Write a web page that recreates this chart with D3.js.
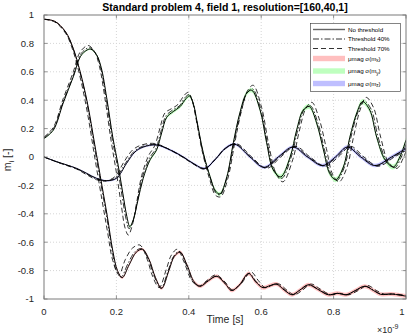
<!DOCTYPE html>
<html>
<head>
<meta charset="utf-8">
<script src="https://cdn.jsdelivr.net/npm/d3@7"></script>
<style>
  html, body { margin: 0; padding: 0; background: #fff; }
  svg { display: block; font-family: "Liberation Sans", Arial, sans-serif; }
</style>
</head>
<body>
<svg id="chart" width="407" height="335"></svg>
<script>
// time in ns (axis shows x10^-9 s)
const xTicks = [0, 0.2, 0.4, 0.6, 0.8, 1];
const yTicks = [-1, -0.8, -0.6, -0.4, -0.2, 0, 0.2, 0.4, 0.6, 0.8, 1];

// mx
const mxNone = [[0,0.97],[0.03,0.955],[0.06,0.88],[0.08,0.77],[0.1,0.6],[0.12,0.38],[0.14,0.09],[0.16,-0.2],[0.175,-0.42],[0.19,-0.66],[0.203,-0.8],[0.216,-0.85],[0.235,-0.76],[0.255,-0.67],[0.272,-0.65],[0.29,-0.72],[0.308,-0.85],[0.325,-0.925],[0.345,-0.8],[0.36,-0.7],[0.376,-0.67],[0.395,-0.76],[0.415,-0.88],[0.432,-0.91],[0.455,-0.87],[0.477,-0.84],[0.5,-0.89],[0.518,-0.94],[0.54,-0.9],[0.565,-0.82],[0.585,-0.88],[0.605,-0.92],[0.625,-0.905],[0.642,-0.895],[0.665,-0.94],[0.685,-0.97],[0.705,-0.94],[0.73,-0.9],[0.755,-0.93],[0.785,-0.97],[0.81,-0.96],[0.835,-0.97],[0.86,-0.94],[0.886,-0.91],[0.91,-0.94],[0.93,-0.967],[0.96,-0.965],[1,-0.98]];
const mx40 = [[0,0.97],[0.03,0.955],[0.06,0.876],[0.08,0.765],[0.1,0.59],[0.12,0.36],[0.14,0.06],[0.16,-0.23],[0.175,-0.45],[0.19,-0.69],[0.2,-0.8],[0.213,-0.845],[0.232,-0.75],[0.252,-0.665],[0.27,-0.645],[0.288,-0.72],[0.306,-0.85],[0.323,-0.925],[0.343,-0.8],[0.358,-0.7],[0.374,-0.665],[0.393,-0.76],[0.413,-0.88],[0.43,-0.91],[0.453,-0.87],[0.476,-0.84],[0.5,-0.89],[0.519,-0.94],[0.541,-0.9],[0.567,-0.82],[0.587,-0.88],[0.607,-0.92],[0.627,-0.905],[0.644,-0.895],[0.667,-0.94],[0.687,-0.97],[0.707,-0.94],[0.732,-0.9],[0.757,-0.93],[0.787,-0.97],[0.812,-0.96],[0.837,-0.97],[0.862,-0.94],[0.888,-0.91],[0.912,-0.94],[0.932,-0.967],[0.962,-0.965],[1,-0.98]];
const mx70 = [[0,0.97],[0.03,0.95],[0.06,0.87],[0.08,0.75],[0.1,0.56],[0.12,0.31],[0.14,0],[0.16,-0.3],[0.175,-0.52],[0.19,-0.73],[0.207,-0.83],[0.225,-0.72],[0.245,-0.64],[0.265,-0.62],[0.285,-0.72],[0.3,-0.84],[0.318,-0.92],[0.338,-0.79],[0.352,-0.69],[0.368,-0.65],[0.387,-0.74],[0.408,-0.87],[0.428,-0.91],[0.45,-0.87],[0.475,-0.83],[0.5,-0.88],[0.52,-0.935],[0.545,-0.89],[0.572,-0.81],[0.592,-0.87],[0.612,-0.92],[0.632,-0.9],[0.65,-0.895],[0.672,-0.94],[0.692,-0.97],[0.713,-0.94],[0.738,-0.895],[0.763,-0.93],[0.792,-0.97],[0.817,-0.96],[0.842,-0.97],[0.868,-0.94],[0.894,-0.905],[0.918,-0.94],[0.94,-0.965],[0.97,-0.965],[1,-0.975]];

// my
const myNone = [[0,0.13],[0.026,0.19],[0.053,0.38],[0.081,0.565],[0.104,0.72],[0.128,0.76],[0.145,0.72],[0.158,0.63],[0.173,0.42],[0.19,0.14],[0.205,-0.06],[0.218,-0.26],[0.229,-0.42],[0.237,-0.49],[0.247,-0.44],[0.259,-0.31],[0.274,-0.15],[0.293,-0.02],[0.311,0.05],[0.325,0.17],[0.339,0.28],[0.357,0.32],[0.376,0.355],[0.392,0.41],[0.402,0.43],[0.413,0.37],[0.422,0.26],[0.44,0.03],[0.459,-0.14],[0.474,-0.24],[0.486,-0.26],[0.505,-0.14],[0.523,0.1],[0.541,0.31],[0.56,0.45],[0.574,0.47],[0.597,0.33],[0.615,0.1],[0.633,-0.09],[0.654,-0.14],[0.68,0],[0.698,0.19],[0.716,0.33],[0.733,0.355],[0.753,0.24],[0.772,0.05],[0.789,-0.115],[0.806,-0.16],[0.827,-0.07],[0.845,0.14],[0.864,0.31],[0.88,0.39],[0.9,0.33],[0.919,0.14],[0.942,-0.02],[0.965,-0.07],[0.983,0],[1,0.12]];
const my40 = [[0,0.135],[0.026,0.2],[0.053,0.39],[0.081,0.575],[0.103,0.73],[0.126,0.77],[0.143,0.73],[0.156,0.635],[0.171,0.42],[0.188,0.135],[0.203,-0.07],[0.216,-0.28],[0.227,-0.44],[0.235,-0.505],[0.246,-0.45],[0.258,-0.31],[0.272,-0.14],[0.291,-0.01],[0.309,0.06],[0.323,0.18],[0.337,0.29],[0.355,0.33],[0.374,0.36],[0.39,0.42],[0.401,0.44],[0.412,0.38],[0.421,0.265],[0.439,0.03],[0.459,-0.145],[0.474,-0.25],[0.487,-0.265],[0.506,-0.14],[0.525,0.1],[0.543,0.31],[0.562,0.455],[0.576,0.48],[0.599,0.335],[0.617,0.1],[0.636,-0.095],[0.657,-0.15],[0.683,0],[0.701,0.19],[0.719,0.335],[0.736,0.36],[0.756,0.245],[0.775,0.05],[0.792,-0.115],[0.809,-0.165],[0.83,-0.07],[0.848,0.14],[0.867,0.315],[0.884,0.395],[0.904,0.335],[0.923,0.14],[0.946,-0.025],[0.969,-0.075],[0.987,0],[1,0.09]];
const my70 = [[0,0.14],[0.026,0.21],[0.053,0.41],[0.081,0.6],[0.1,0.74],[0.122,0.785],[0.14,0.74],[0.153,0.64],[0.168,0.42],[0.185,0.12],[0.2,-0.11],[0.213,-0.33],[0.224,-0.5],[0.233,-0.55],[0.244,-0.48],[0.256,-0.32],[0.27,-0.13],[0.289,0.01],[0.306,0.08],[0.32,0.2],[0.334,0.31],[0.352,0.34],[0.37,0.37],[0.386,0.43],[0.398,0.455],[0.41,0.39],[0.42,0.27],[0.438,0.03],[0.458,-0.16],[0.474,-0.27],[0.488,-0.28],[0.508,-0.15],[0.527,0.1],[0.545,0.32],[0.563,0.47],[0.578,0.505],[0.601,0.35],[0.62,0.1],[0.64,-0.11],[0.66,-0.175],[0.687,-0.02],[0.705,0.18],[0.723,0.34],[0.74,0.385],[0.76,0.27],[0.78,0.06],[0.797,-0.12],[0.815,-0.175],[0.836,-0.08],[0.855,0.14],[0.873,0.33],[0.89,0.42],[0.91,0.35],[0.93,0.14],[0.952,-0.04],[0.975,-0.08],[0.992,-0.01],[1,0.04]];

// mz
const mzNone = [[0,0],[0.035,-0.033],[0.063,-0.056],[0.09,-0.08],[0.118,-0.115],[0.145,-0.15],[0.173,-0.167],[0.2,-0.15],[0.228,-0.045],[0.251,0.035],[0.274,0.07],[0.311,0.085],[0.348,0.05],[0.385,0],[0.412,-0.045],[0.444,-0.08],[0.472,-0.02],[0.5,0.06],[0.527,0.09],[0.569,0],[0.608,-0.073],[0.647,0],[0.688,0.07],[0.728,0],[0.77,-0.06],[0.805,0],[0.838,0.07],[0.875,0],[0.914,-0.06],[0.96,0],[1,0.06]];
const mz40 = [[0,0],[0.035,-0.034],[0.063,-0.058],[0.09,-0.082],[0.118,-0.12],[0.145,-0.155],[0.171,-0.168],[0.198,-0.145],[0.226,-0.04],[0.249,0.04],[0.272,0.075],[0.309,0.088],[0.347,0.052],[0.384,0],[0.411,-0.045],[0.444,-0.082],[0.472,-0.02],[0.501,0.06],[0.529,0.092],[0.571,0],[0.611,-0.075],[0.65,0],[0.691,0.072],[0.731,0],[0.773,-0.062],[0.808,0],[0.842,0.072],[0.879,0],[0.918,-0.062],[0.963,0],[1,0.055]];
const mz70 = [[0,0],[0.035,-0.035],[0.063,-0.06],[0.09,-0.085],[0.118,-0.125],[0.145,-0.16],[0.168,-0.17],[0.195,-0.14],[0.222,-0.03],[0.245,0.05],[0.27,0.085],[0.306,0.095],[0.345,0.055],[0.382,0],[0.41,-0.045],[0.443,-0.085],[0.472,-0.02],[0.502,0.06],[0.531,0.095],[0.574,0],[0.615,-0.08],[0.654,0],[0.695,0.075],[0.735,0],[0.777,-0.065],[0.813,0],[0.847,0.075],[0.884,0],[0.923,-0.065],[0.968,0],[1,0.045]];

// muMag sigma half-widths, [t, sigma]
const sigmaX = [[0,0.004],[0.2,0.008],[0.4,0.012],[0.6,0.014],[0.8,0.014],[1,0.014]];
const sigmaY = [[0,0.004],[0.2,0.008],[0.4,0.012],[0.6,0.016],[0.8,0.018],[1,0.018]];
const sigmaZ = [[0,0.003],[0.2,0.006],[0.4,0.008],[0.6,0.01],[0.8,0.012],[1,0.012]];

const legendLabels = ["No threshold", "Threshold 40%", "Threshold 70%"];
const bandColors = ["#ffbfbf", "#bfffbf", "#bfbfff"];

const svg = d3.select("#chart");
const margin = { left: 44, right: 1, top: 15, bottom: 36 };
const W = 407, H = 335;
const x = d3.scaleLinear().domain([0, 1]).range([margin.left, W - margin.right]);
const y = d3.scaleLinear().domain([-1, 1]).range([H - margin.bottom, margin.top]);

svg.append("defs").append("clipPath").attr("id", "clip")
  .append("rect")
  .attr("x", x(0)).attr("y", y(1))
  .attr("width", x(1) - x(0)).attr("height", y(-1) - y(1));

// grid
const grid = svg.append("g");
grid.selectAll(".gx").data(xTicks.slice(1, -1)).join("line")
  .attr("x1", d => x(d)).attr("x2", d => x(d))
  .attr("y1", y(-1)).attr("y2", y(1))
  .attr("stroke", "#d6d6d6").attr("stroke-dasharray", "1,2");
grid.selectAll(".gy").data(yTicks.slice(1, -1)).join("line")
  .attr("y1", d => y(d)).attr("y2", d => y(d))
  .attr("x1", x(0)).attr("x2", x(1))
  .attr("stroke", "#d6d6d6").attr("stroke-dasharray", "1,2");

const plot = svg.append("g").attr("clip-path", "url(#clip)");

// uncertainty bands
const bands = [[mxNone, sigmaX], [myNone, sigmaY], [mzNone, sigmaZ]];
bands.forEach(([series, sig], i) => {
  const s = d3.scaleLinear().domain(sig.map(d => d[0])).range(sig.map(d => d[1]));
  const area = d3.area()
    .x(d => x(d[0]))
    .y0(d => y(d[1] - s(d[0])))
    .y1(d => y(d[1] + s(d[0])))
    .curve(d3.curveCatmullRom.alpha(0.5));
  plot.append("path").datum(series)
    .attr("d", area)
    .attr("fill", bandColors[i]);
});

const line = d3.line()
  .x(d => x(d[0]))
  .y(d => y(d[1]))
  .curve(d3.curveCatmullRom.alpha(0.5));

const styles = [
  { dash: null, w: 1 },
  { dash: "6,2,1.5,2", w: 0.8 },
  { dash: "5,3", w: 0.8 }
];
const groups = [[mx70, my70, mz70], [mx40, my40, mz40], [mxNone, myNone, mzNone]];
const styleOf = [2, 1, 0];
groups.forEach((g, gi) => {
  const st = styles[styleOf[gi]];
  g.forEach(series => {
    plot.append("path").datum(series)
      .attr("d", line)
      .attr("fill", "none")
      .attr("stroke", "#000")
      .attr("stroke-width", st.w)
      .attr("stroke-dasharray", st.dash);
  });
});

// axes box
const axisColor = "#7a7a7a";
svg.append("rect")
  .attr("x", x(0)).attr("y", y(1))
  .attr("width", x(1) - x(0)).attr("height", y(-1) - y(1))
  .attr("fill", "none").attr("stroke", axisColor).attr("stroke-width", 1);

const tl = 3.5;
const tk = svg.append("g").attr("stroke", axisColor).attr("stroke-width", 0.8);
xTicks.forEach(t => {
  tk.append("line").attr("x1", x(t)).attr("x2", x(t)).attr("y1", y(-1)).attr("y2", y(-1) - tl);
  tk.append("line").attr("x1", x(t)).attr("x2", x(t)).attr("y1", y(1)).attr("y2", y(1) + tl);
});
yTicks.forEach(t => {
  tk.append("line").attr("y1", y(t)).attr("y2", y(t)).attr("x1", x(0)).attr("x2", x(0) + tl);
  tk.append("line").attr("y1", y(t)).attr("y2", y(t)).attr("x1", x(1)).attr("x2", x(1) - tl);
});

const fmt = d => String(d);
svg.append("g").selectAll("text").data(xTicks).join("text")
  .attr("x", d => Math.min(x(d), 402)).attr("y", y(-1) + 16)
  .attr("text-anchor", "middle").attr("font-size", 9.5).attr("fill", "#262626")
  .text(fmt);
svg.append("g").selectAll("text").data(yTicks).join("text")
  .attr("x", x(0) - 10).attr("y", d => y(d) + 3.4)
  .attr("text-anchor", "end").attr("font-size", 9.5).attr("fill", "#262626")
  .text(fmt);

// labels
svg.append("text")
  .attr("x", x(0.5)).attr("y", 11)
  .attr("text-anchor", "middle").attr("font-size", 10.5).attr("font-weight", "bold")
  .attr("fill", "#000")
  .text("Standard problem 4, field 1, resolution=[160,40,1]");

svg.append("text")
  .attr("x", x(0.5)).attr("y", 323)
  .attr("text-anchor", "middle").attr("font-size", 10.5).attr("fill", "#262626")
  .text("Time [s]");

const exp = svg.append("text")
  .attr("x", 377).attr("y", 333)
  .attr("font-size", 9).attr("fill", "#262626");
exp.append("tspan").text("\u00d710");
exp.append("tspan").attr("dy", -4).attr("font-size", 7).text("-9");

const yl = svg.append("text")
  .attr("transform", `translate(11,${y(0) + 3}) rotate(-90)`)
  .attr("text-anchor", "middle").attr("font-size", 10.5).attr("fill", "#262626");
yl.append("tspan").text("m");
yl.append("tspan").attr("dy", 3).attr("font-size", 7.5).text("i");
yl.append("tspan").attr("dy", -3).text(" [-]");

// legend
const lg = svg.append("g");
lg.append("rect")
  .attr("x", 310.5).attr("y", 23.5).attr("width", 90).attr("height", 68)
  .attr("fill", "#fff").attr("stroke", "#333").attr("stroke-width", 0.6);
const rowsY = [29.5, 39, 48.5, 58.5, 71, 83.5];
legendLabels.forEach((lab, i) => {
  const st = styles[i];
  lg.append("line")
    .attr("x1", 313).attr("x2", 345).attr("y1", rowsY[i]).attr("y2", rowsY[i])
    .attr("stroke", i === 0 ? "#666" : "#000").attr("stroke-width", i === 0 ? 1.4 : 0.8)
    .attr("stroke-dasharray", st.dash);
  lg.append("text").attr("x", 348).attr("y", rowsY[i] + 2.2)
    .attr("font-size", 6.2).attr("fill", "#000").text(lab);
});
["x", "y", "z"].forEach((c, i) => {
  const ry = rowsY[3 + i];
  lg.append("rect").attr("x", 313).attr("y", ry - 2.7).attr("width", 32).attr("height", 5.4)
    .attr("fill", bandColors[i]);
  const t = lg.append("text").attr("x", 348).attr("y", ry + 2)
    .attr("font-size", 6.2).attr("fill", "#000");
  t.append("tspan").text("\u03bcmag \u03c3(m");
  t.append("tspan").attr("dy", 1.8).attr("font-size", 4.5).text(c);
  t.append("tspan").attr("dy", -1.8).text(")");
});
</script>
</body>
</html>
